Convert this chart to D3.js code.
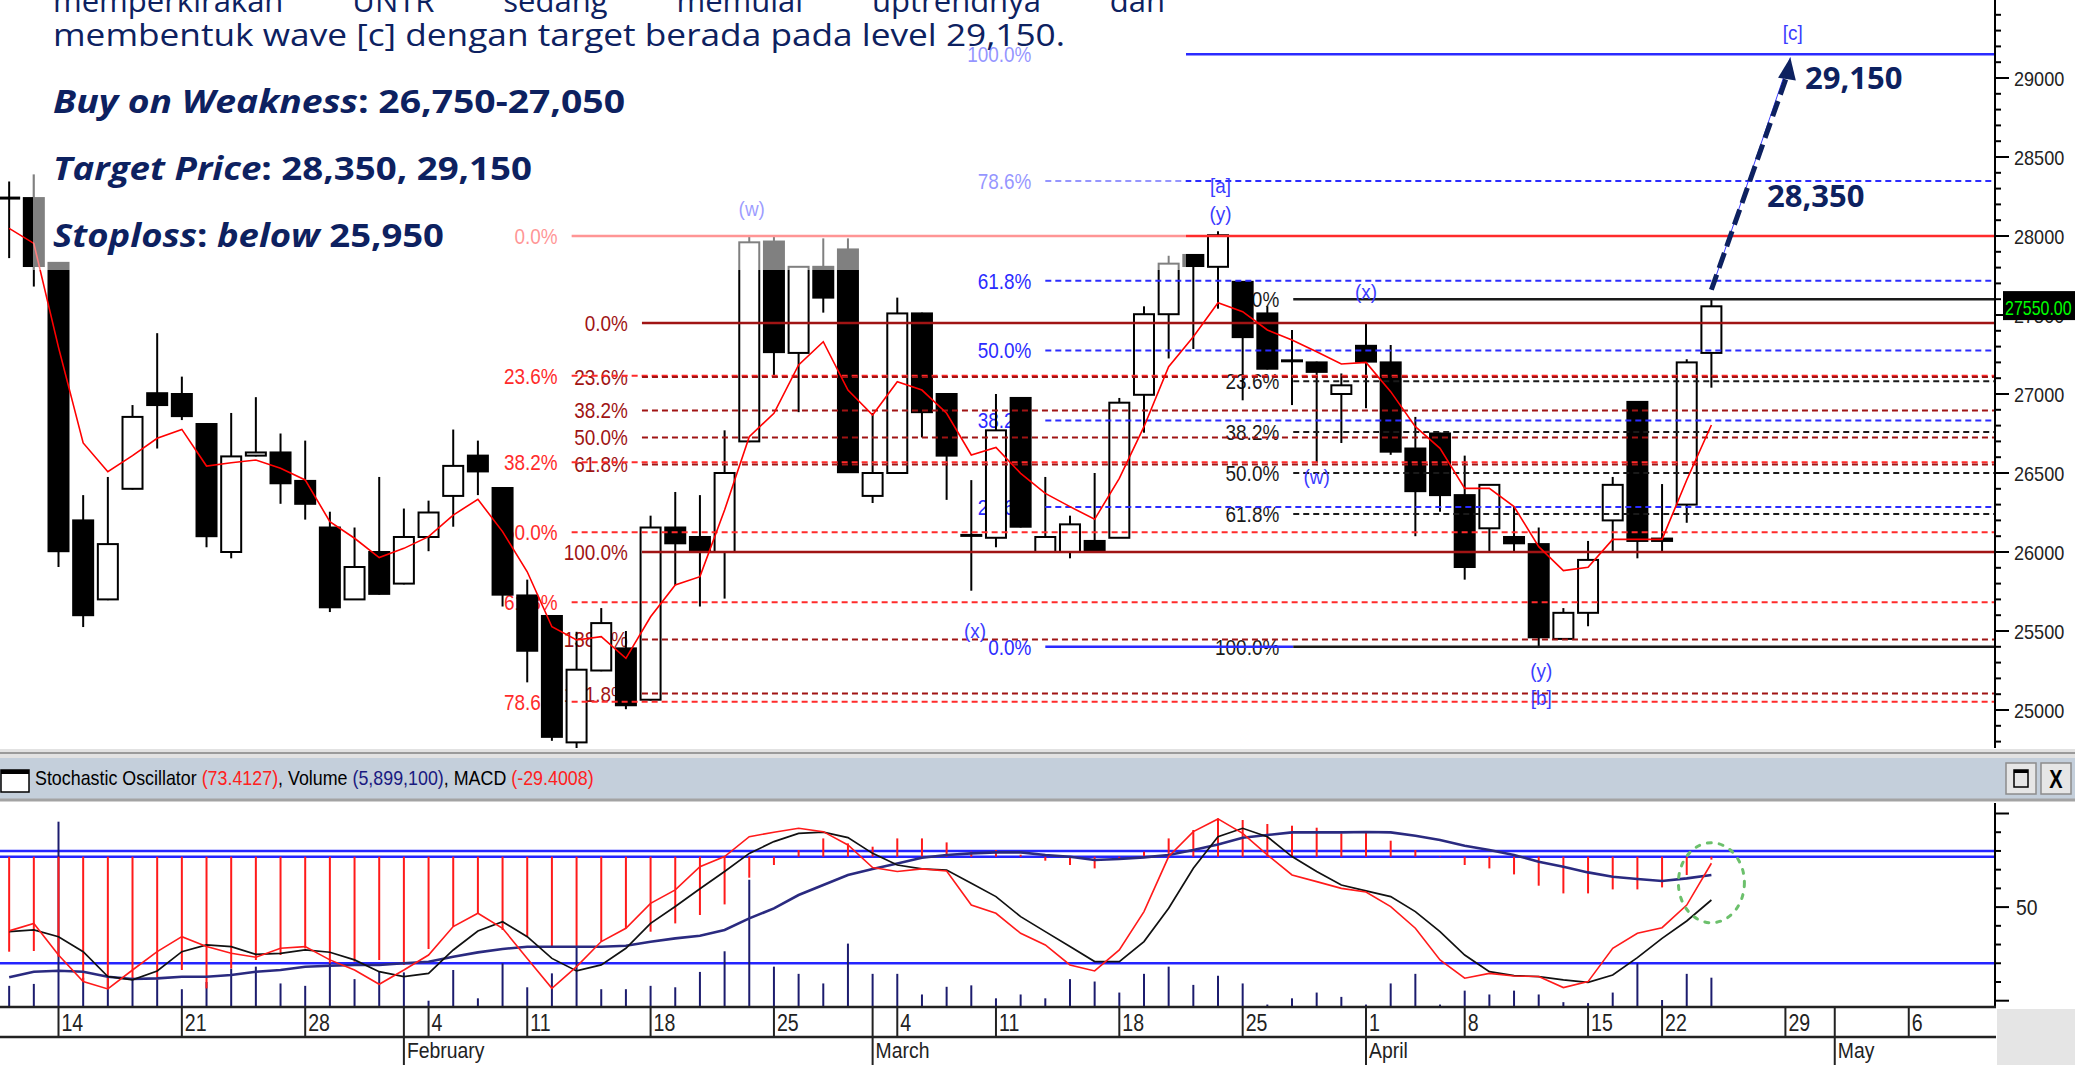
<!DOCTYPE html>
<html>
<head>
<meta charset="utf-8">
<script src="https://cdn.jsdelivr.net/npm/d3@7"></script>
<style>
  body { margin: 0; background: #fff; }
  svg { display: block; }
</style>
</head>
<body>
<svg id="chart" width="2075" height="1065"></svg>
<script>
// ---------- data ----------
const tradeDates = [
  "2019-01-10","2019-01-11","2019-01-14","2019-01-15","2019-01-16","2019-01-17","2019-01-18",
  "2019-01-21","2019-01-22","2019-01-23","2019-01-24","2019-01-25","2019-01-28","2019-01-29",
  "2019-01-30","2019-01-31","2019-02-01","2019-02-04","2019-02-06","2019-02-07","2019-02-08",
  "2019-02-11","2019-02-12","2019-02-13","2019-02-14","2019-02-15","2019-02-18","2019-02-19",
  "2019-02-20","2019-02-21","2019-02-22","2019-02-25","2019-02-26","2019-02-27","2019-02-28",
  "2019-03-01","2019-03-04","2019-03-05","2019-03-06","2019-03-08","2019-03-11","2019-03-12",
  "2019-03-13","2019-03-14","2019-03-15","2019-03-18","2019-03-19","2019-03-20","2019-03-21",
  "2019-03-22","2019-03-25","2019-03-26","2019-03-27","2019-03-28","2019-03-29","2019-04-01",
  "2019-04-02","2019-04-04","2019-04-05","2019-04-08","2019-04-09","2019-04-10","2019-04-11",
  "2019-04-12","2019-04-15","2019-04-16","2019-04-18","2019-04-22","2019-04-23","2019-04-24"
];
const futureDates = ["2019-04-25","2019-04-26","2019-04-29","2019-04-30","2019-05-01",
  "2019-05-02","2019-05-03","2019-05-06","2019-05-07","2019-05-08","2019-05-09"];

const opens = [
  28240,28240,27830,26200,25700,26400,27005,27000,26810,26000,
  26610,26630,26450,26155,25700,26000,25800,26095,26355,26610,
  26405,25725,25595,24795,25250,25390,25065,26155,26095,26000,
  26700,27965,27260,27805,27915,26355,26500,27510,27000,26105,
  26090,26975,26000,26000,26070,26090,26995,27505,27880,27805,
  27710,27510,27210,27200,27000,27305,27200,26655,26750,26360,
  26150,26095,26050,25450,25615,26200,26950,26085,26300,27260];
const highs = [
  28345,28390,27835,26360,26475,26930,27385,27110,26815,26880,
  26980,26750,26705,26255,26155,26475,26275,26325,26775,26705,
  26410,25825,25600,25495,25645,25500,26230,26380,26360,26770,
  28000,28000,27810,27985,27985,26880,27610,27515,27005,26455,
  27000,26980,26475,26230,26500,26975,27555,27875,27885,28030,
  27715,27555,27405,27205,27130,27450,27310,26855,26755,26610,
  26430,26285,26155,25645,26070,26475,26955,26430,27220,27600];
const lows = [
  27860,27680,25905,25525,25695,26395,26655,26835,26030,25960,
  26605,26305,26205,25620,25700,25730,25795,26005,26160,26360,
  25655,25175,24805,24745,25245,25005,25060,25790,25655,25705,
  26695,27115,26885,27515,26500,26310,26495,26725,26330,25755,
  26030,26155,25995,25960,25995,26090,26755,27225,27285,27540,
  26960,27155,26930,26565,26690,26910,26615,26100,26255,25825,
  26000,26000,25395,25445,25530,26000,25960,26000,26185,27040];
const closes = [
  28240,27810,26005,25600,26050,26855,26930,26860,26100,26605,
  26630,26435,26305,25650,25905,25735,26095,26250,26545,26510,
  25730,25375,24830,25255,25550,25030,26155,26055,26005,26500,
  27960,27265,27805,27610,26505,26500,27510,26885,26610,26105,
  26770,26160,26095,26175,26000,26945,27505,27825,27810,28005,
  27360,27160,27210,27140,27055,27205,26635,26385,26360,25905,
  26425,26055,25460,25615,25950,26425,26070,26070,27200,27555];
const movingAvg = [
  28048,27953,27295,26690,26508,26610,26720,26776,26544,26565,
  26582,26530,26456,26192,26087,25965,26023,26097,26234,26333,
  26129,25875,25527,25443,25464,25327,25590,25791,25844,26266,
  26730,26878,27184,27331,27025,26867,27078,27025,26878,26614,
  26662,26498,26371,26287,26207,26466,26793,27173,27363,27578,
  27521,27405,27342,27268,27190,27200,27015,26793,26656,26403,
  26403,26287,26034,25882,25903,26080,26080,26080,26456,26804];

const stochK = [
  37.3,41.3,24.4,10.2,6.3,16.4,26.2,34.2,28.9,25.3,
  23.2,28.0,28.9,21.8,16.4,8.8,16.4,24.4,39.6,46.7,
  38.7,22.6,6.6,18.2,31.6,38.7,52.0,59.2,71.6,77.0,
  87.6,90.0,92.1,90.3,83.2,71.1,69.0,70.4,69.3,51.1,
  46.7,36.0,29.8,19.1,15.9,27.1,47.6,77.0,90.3,97.1,
  89.4,77.9,67.2,63.6,60.0,58.1,50.3,38.7,21.8,12.0,
  14.6,13.2,12.9,7.0,10.2,28.0,36.0,39.0,51.1,73.4127];
const stochD = [
  36.9,37.8,34.2,26.2,12.9,11.1,15.9,26.2,29.8,28.9,
  24.8,25.3,27.1,25.9,21.8,15.5,12.9,14.6,27.1,37.2,
  42.2,34.2,22.6,15.9,19.1,28.0,41.3,50.3,59.8,69.0,
  78.7,85.0,89.4,90.0,87.1,78.7,72.5,70.4,69.8,62.7,
  55.6,44.9,36.9,28.9,20.9,20.9,31.6,49.4,70.7,87.6,
  92.1,87.6,77.0,69.0,61.8,58.7,55.6,47.6,36.9,24.4,
  15.5,13.4,12.9,11.1,9.8,13.7,23.0,33.3,42.6,53.8];
const macdValues = [
  -950,-943,-1000,-1250,-1317,-1233,-1233,-1133,-1317,-1117,
  -1033,-983,-917,-1066,-1050,-1033,-1083,-923,-700,-567,
  -733,-800,-900,-900,-850,-717,-750,-667,-583,-477,
  -210,-83,67,183,133,100,183,183,143,50,
  67,20,-40,-83,-117,-33,50,183,267,383,
  367,327,310,290,233,243,160,67,5,-83,
  -117,-177,-290,-367,-367,-327,-327,-307,-183,-29.4008];
const macdSignal = [
  -1205,-1150,-1140,-1150,-1200,-1223,-1217,-1200,-1200,-1183,
  -1150,-1133,-1100,-1090,-1083,-1083,-1066,-1050,-1000,-957,
  -923,-900,-900,-900,-900,-890,-850,-817,-790,-733,
  -617,-517,-383,-283,-183,-123,-67,-10,17,33,
  43,43,17,0,-33,-23,-7,17,67,123,
  190,217,243,243,243,247,243,210,167,110,
  67,17,-50,-100,-157,-200,-223,-243,-217,-183];
const volumeM = [
  4.2,4.6,38.4,5.9,6.0,5.9,5.5,3.5,5.0,7.8,
  8.2,4.7,4.2,8.9,5.6,7.1,7.0,1.1,7.5,1.6,
  8.9,3.9,6.8,12.4,3.5,3.5,4.2,3.9,7.1,11.4,
  26.3,8.2,6.7,4.7,13.0,6.7,6.7,2.4,4.0,4.3,
  1.6,2.4,1.6,5.6,5.1,2.8,6.7,8.2,4.4,6.3,
  4.7,0.3,1.6,2.8,1.9,0.3,4.7,6.7,0.3,3.2,
  2.4,3.2,2.4,0.8,0.6,2.8,8.9,1.25,6.7,5.8991];

// fibonacci tools: anchors [0% price, 100% price], levels, start position (date index)
const fibRedAnchors = [28000, 24250];
const fibRedLevels = [0, 23.6, 38.2, 50, 61.8, 78.6];
const fibRedStart = 22.8;
const fibMaroonAnchors = [27450, 26000];
const fibMaroonLevels = [0, 23.6, 38.2, 50, 61.8, 100, 138.2, 161.8];
const fibMaroonStart = 25.65;
const fibBlueAnchors = [25400, 29150];
const fibBlueLevels = [0, 23.6, 38.2, 50, 61.8, 78.6, 100];
const fibBlueStart = 42.0;
const fibBlackAnchors = [27600, 25400];
const fibBlackLevels = [0, 23.6, 38.2, 50, 61.8, 100];
const fibBlackStart = 52.05;

// Elliott wave labels: [date index, price, text]
const waveLabels = [
  [30.1, 28170, "(w)"], [49.1, 28320, "[a]"], [49.1, 28140, "(y)"],
  [55.0, 27645, "(x)"], [53.0, 26480, "(w)"], [39.15, 25505, "(x)"],
  [62.1, 25247, "(y)"], [62.1, 25076, "[b]"], [72.3, 29290, "[c]"]
];
const arrowFrom = [69, 27660];
const arrowTo = [72.1, 29030];
const arrowTip = [72.2, 29130];
const lastPrice = 27550;

const headerLine1 = ["memperkirakan", "UNTR", "sedang", "memulai", "uptrendnya", "dan"];
const headerLine2 = "membentuk wave [c] dengan target berada pada level 29,150.";
const targetLabels = [["29,150", 29000], ["28,350", 28250]];
const titleParts = [["Stochastic Oscillator ", "#000"], ["(73.4127)", "#ff2020"], [", Volume ", "#000"],
  ["(5,899,100)", "#1a1a80"], [", MACD ", "#000"], ["(-29.4008)", "#ff2020"]];

// ---------- setup ----------
const svg = d3.select("#chart");
const fontChart = "'Liberation Sans', Arial, sans-serif";
const fontHead = "'Open Sans', 'Noto Sans', sans-serif";
const navy = "#0d2160";
const axisX = 1995;
const priceBottom = 748;

// squeeze a text horizontally to mimic the narrow chart font
function condense(sel, f = 0.86) {
  sel.each(function () {
    const len = this.getComputedTextLength();
    d3.select(this).attr("textLength", len * f).attr("lengthAdjust", "spacingAndGlyphs");
  });
}

const parse = d3.timeParse("%Y-%m-%d");
const allDates = tradeDates.concat(futureDates).map(parse);

const x = d3.scaleLinear().domain([2, 69]).range([58.5, 1711.4]);
const y = d3.scaleLinear().domain([25000, 29000]).range([710, 78]);
const yStoch = d3.scaleLinear().domain([0, 100]).range([1000.7, 813.5]);
const yMacd = d3.scaleLinear().domain([-1500, 500]).range([1006.7, 806.7]);
const yVol = d3.scaleLinear().domain([0, 40]).range([1006, 814]);

const defs = svg.append("defs");
defs.append("clipPath").attr("id", "clipPrice")
  .append("rect").attr("x", 0).attr("y", 0).attr("width", axisX).attr("height", priceBottom);
defs.append("clipPath").attr("id", "clipInd")
  .append("rect").attr("x", 0).attr("y", 803).attr("width", axisX).attr("height", 204);

const candles = tradeDates.map((d, k) => ({
  k, o: opens[k], h: highs[k], l: lows[k], c: closes[k]
}));

// ---------- price panel ----------
const price = svg.append("g").attr("clip-path", "url(#clipPrice)");

const fibs = [
  { anchors: fibRedAnchors, levels: fibRedLevels, start: fibRedStart, color: "#ff2b2b", solid: [0] },
  { anchors: fibMaroonAnchors, levels: fibMaroonLevels, start: fibMaroonStart, color: "#a01414", solid: [0, 100] },
  { anchors: fibBlueAnchors, levels: fibBlueLevels, start: fibBlueStart, color: "#2b2bff", solid: [0, 100] },
  { anchors: fibBlackAnchors, levels: fibBlackLevels, start: fibBlackStart, color: "#1a1a1a", solid: [0, 100] }
];
const fibPrice = (f, p) => f.anchors[0] + (f.anchors[1] - f.anchors[0]) * p / 100;

// fib labels (behind candles)
fibs.forEach(f => {
  price.append("g").selectAll("text")
    .data(f.levels)
    .join("text")
    .attr("x", x(f.start) - 14)
    .attr("y", p => y(fibPrice(f, p)))
    .attr("dy", "0.36em")
    .attr("text-anchor", "end")
    .attr("fill", f.color)
    .style("font-family", fontChart)
    .style("font-size", "22px")
    .text(p => p.toFixed(1) + "%")
    .call(condense);
});

// candles
const cg = price.append("g");
cg.selectAll("line.wick")
  .data(candles)
  .join("line")
  .attr("class", "wick")
  .attr("x1", d => x(d.k)).attr("x2", d => x(d.k))
  .attr("y1", d => y(d.h)).attr("y2", d => y(d.l))
  .attr("stroke", "#000").attr("stroke-width", 2);
cg.selectAll("rect.body")
  .data(candles.filter(d => Math.abs(d.c - d.o) >= 5))
  .join("rect")
  .attr("class", "body")
  .attr("x", d => x(d.k) - 10)
  .attr("width", 20)
  .attr("y", d => y(Math.max(d.o, d.c)))
  .attr("height", d => Math.max(2, y(Math.min(d.o, d.c)) - y(Math.max(d.o, d.c))))
  .attr("fill", d => d.c < d.o ? "#000" : "#fff")
  .attr("stroke", "#000").attr("stroke-width", 2);
cg.selectAll("line.doji")
  .data(candles.filter(d => Math.abs(d.c - d.o) < 5))
  .join("line")
  .attr("class", "doji")
  .attr("x1", d => x(d.k) - 11).attr("x2", d => x(d.k) + 11)
  .attr("y1", d => y(d.c)).attr("y2", d => y(d.c))
  .attr("stroke", "#000").attr("stroke-width", 3);

// fib lines (over candles)
const boxRight = 1186;
fibs.forEach(f => {
  f.levels.forEach(p => {
    const yy = y(fibPrice(f, p));
    const solid = f.solid.includes(p);
    let x1 = x(f.start), x2 = axisX;
    if (f === fibs[2] && p === 0) x2 = x(fibBlackStart);
    if (f === fibs[2] && p === 100) x1 = boxRight;   // hidden under the text box
    price.append("line")
      .attr("x1", x1).attr("x2", x2)
      .attr("y1", yy).attr("y2", yy)
      .attr("stroke", f.color)
      .attr("stroke-width", solid ? 2.5 : 2)
      .attr("stroke-dasharray", solid ? null : "6,4");
  });
});

// moving average
price.append("path")
  .datum(movingAvg)
  .attr("fill", "none")
  .attr("stroke", "#ff0000")
  .attr("stroke-width", 1.6)
  .attr("d", d3.line().x((d, k) => x(k)).y(d => y(d)));

// wave labels
price.append("g").selectAll("text")
  .data(waveLabels)
  .join("text")
  .attr("x", d => x(d[0]))
  .attr("y", d => y(d[1]))
  .attr("dy", "0.35em")
  .attr("text-anchor", "middle")
  .attr("fill", "#3b3bff")
  .style("font-family", fontChart)
  .style("font-size", "21px")
  .text(d => d[2])
  .call(condense, 0.9);

// white translucent text box behind header
price.append("rect")
  .attr("x", 33).attr("y", 0).attr("width", boxRight - 33).attr("height", 270)
  .attr("fill", "#fff").attr("fill-opacity", 0.5);

// projection arrow
svg.append("line")
  .attr("x1", x(arrowFrom[0])).attr("y1", y(arrowFrom[1]))
  .attr("x2", x(arrowTip[0])).attr("y2", y(arrowTip[1]))
  .attr("stroke", "#3b3bff").attr("stroke-width", 1);
svg.append("line")
  .attr("x1", x(arrowFrom[0])).attr("y1", y(arrowFrom[1]))
  .attr("x2", x(arrowTo[0])).attr("y2", y(arrowTo[1]))
  .attr("stroke", navy).attr("stroke-width", 5)
  .attr("stroke-dasharray", "16,7");
{
  const tx = x(arrowTip[0]), ty = y(arrowTip[1]);
  const bx = x(arrowTo[0]), by = y(arrowTo[1]);
  const ang = Math.atan2(ty - by, tx - bx);
  const L = 22, Wd = 9;
  const baseX = tx - L * Math.cos(ang), baseY = ty - L * Math.sin(ang);
  const p1 = [baseX + Wd * Math.sin(ang), baseY - Wd * Math.cos(ang)];
  const p2 = [baseX - Wd * Math.sin(ang), baseY + Wd * Math.cos(ang)];
  svg.append("path").attr("d", `M${[tx, ty]}L${p1}L${p2}Z`).attr("fill", navy);
}

// target labels
svg.append("g").selectAll("text")
  .data(targetLabels)
  .join("text")
  .attr("x", (d, k) => k === 0 ? 1805 : 1767)
  .attr("y", d => y(d[1]))
  .attr("dy", "0.35em")
  .attr("fill", navy)
  .style("font-family", fontHead)
  .style("font-weight", 700)
  .style("font-size", "31px")
  .text(d => d[0]);

// price axis
const pAxis = svg.append("g");
pAxis.append("line").attr("x1", axisX).attr("x2", axisX).attr("y1", 0).attr("y2", priceBottom)
  .attr("stroke", "#000").attr("stroke-width", 2);
pAxis.selectAll("line.minor")
  .data(d3.range(24800, 29500, 100))
  .join("line")
  .attr("class", "minor")
  .attr("x1", axisX).attr("x2", d => axisX + (d % 500 === 0 ? 14 : 6))
  .attr("y1", d => y(d)).attr("y2", d => y(d))
  .attr("stroke", "#000").attr("stroke-width", 2);
pAxis.selectAll("text")
  .data(d3.range(25000, 29001, 500))
  .join("text")
  .attr("x", axisX + 19)
  .attr("y", d => y(d))
  .attr("dy", "0.36em")
  .attr("fill", "#222")
  .style("font-family", fontChart)
  .style("font-size", "21px")
  .text(d => d)
  .call(condense, 0.86);
pAxis.append("rect").attr("x", 2003).attr("y", y(lastPrice) - 16).attr("width", 72).attr("height", 29)
  .attr("fill", "#000");
pAxis.append("text").attr("x", 2005).attr("y", y(lastPrice)).attr("dy", "0.36em")
  .attr("fill", "#00ff00").style("font-family", fontChart).style("font-size", "21px")
  .text(lastPrice.toFixed(2))
  .call(condense, 0.76);

// ---------- header text ----------
const head = svg.append("g").attr("fill", navy).style("font-family", fontHead);
{
  const words = head.append("g").style("font-size", "31px");
  const nodes = headerLine1.map(w => words.append("text").attr("y", 12).text(w));
  const widths = nodes.map(n => n.node().getComputedTextLength());
  const gap = (1165 - 53 - d3.sum(widths)) / (nodes.length - 1);
  let cx = 53;
  nodes.forEach((n, k) => { n.attr("x", cx); cx += widths[k] + gap; });
}
head.append("text").attr("x", 53).attr("y", 46).style("font-size", "31px")
  .attr("textLength", 1012).attr("lengthAdjust", "spacingAndGlyphs")
  .text(headerLine2);

const boldLines = [
  { y: 113, len: 572, parts: [["Buy on Weakness", true], [": 26,750-27,050", false]] },
  { y: 180, len: 479, parts: [["Target Price", true], [": 28,350, 29,150", false]] },
  { y: 247, len: 391, parts: [["Stoploss", true], [": ", false], ["below", true], [" 25,950", false]] }
];
boldLines.forEach(line => {
  const t = head.append("text").attr("x", 53).attr("y", line.y)
    .style("font-size", "33px").style("font-weight", 700)
    .attr("textLength", line.len).attr("lengthAdjust", "spacingAndGlyphs");
  line.parts.forEach(p => t.append("tspan").style("font-style", p[1] ? "italic" : "normal").text(p[0]));
});

// ---------- panel separator & title bar ----------
svg.append("rect").attr("x", 0).attr("y", 749).attr("width", 2075).attr("height", 9).attr("fill", "#e2e2e2");
svg.append("line").attr("x1", 0).attr("x2", 2075).attr("y1", 753).attr("y2", 753).attr("stroke", "#9a9a9a").attr("stroke-width", 2);
svg.append("rect").attr("x", 0).attr("y", 758).attr("width", 2075).attr("height", 41).attr("fill", "#c4cfdb");
svg.append("line").attr("x1", 0).attr("x2", 2075).attr("y1", 800).attr("y2", 800).attr("stroke", "#a3a3a3").attr("stroke-width", 3);

// window icon
svg.append("rect").attr("x", 1).attr("y", 770).attr("width", 28).attr("height", 22).attr("fill", "#fff").attr("stroke", "#000").attr("stroke-width", 1.5);
svg.append("rect").attr("x", 1).attr("y", 770).attr("width", 28).attr("height", 4).attr("fill", "#000");

// title: each part condensed and placed after the previous one
{
  let tx = 35;
  titleParts.forEach(p => {
    const t = svg.append("text").attr("x", tx).attr("y", 785)
      .style("font-family", fontChart).style("font-size", "21px").style("white-space", "pre")
      .attr("fill", p[1]).text(p[0]);
    const w = t.node().getComputedTextLength() * 0.85;
    t.attr("textLength", w).attr("lengthAdjust", "spacingAndGlyphs");
    tx += w;
  });
}

// title bar buttons
[[2006, "max"], [2041, "X"]].forEach(b => {
  svg.append("rect").attr("x", b[0]).attr("y", 763).attr("width", 30).attr("height", 31)
    .attr("fill", "#e6e6e6").attr("stroke", "#8c8c8c").attr("stroke-width", 1.5);
  if (b[1] === "max") {
    svg.append("rect").attr("x", b[0] + 8).attr("y", 770).attr("width", 14).attr("height", 17)
      .attr("fill", "none").attr("stroke", "#000").attr("stroke-width", 1.5);
    svg.append("rect").attr("x", b[0] + 8).attr("y", 770).attr("width", 14).attr("height", 3).attr("fill", "#000");
  } else {
    svg.append("text").attr("x", b[0] + 15).attr("y", 788).attr("text-anchor", "middle")
      .style("font-family", fontChart).style("font-size", "25px").style("font-weight", 700)
      .text("X").call(condense, 0.8);
  }
});

// ---------- indicator panel ----------
const ind = svg.append("g").attr("clip-path", "url(#clipInd)");
[yStoch(80), yMacd(0), yStoch(20)].forEach(yy => {
  ind.append("line").attr("x1", 0).attr("x2", axisX).attr("y1", yy).attr("y2", yy)
    .attr("stroke", "#2424ff").attr("stroke-width", 2.5);
});
ind.selectAll("line.vol")
  .data(volumeM)
  .join("line").attr("class", "vol")
  .attr("x1", (d, k) => x(k)).attr("x2", (d, k) => x(k))
  .attr("y1", yVol(0)).attr("y2", d => yVol(d))
  .attr("stroke", "#1c1c6e").attr("stroke-width", 2);
ind.selectAll("line.macd")
  .data(macdValues)
  .join("line").attr("class", "macd")
  .attr("x1", (d, k) => x(k)).attr("x2", (d, k) => x(k))
  .attr("y1", yMacd(0)).attr("y2", d => yMacd(d))
  .attr("stroke", "#ff1a1a").attr("stroke-width", 2);
ind.append("path").datum(macdSignal)
  .attr("fill", "none").attr("stroke", "#2a2a80").attr("stroke-width", 2.6)
  .attr("d", d3.line().x((d, k) => x(k)).y(d => yMacd(d)));
ind.append("path").datum(stochD)
  .attr("fill", "none").attr("stroke", "#111").attr("stroke-width", 1.7)
  .attr("d", d3.line().x((d, k) => x(k)).y(d => yStoch(d)));
ind.append("path").datum(stochK)
  .attr("fill", "none").attr("stroke", "#ff1a1a").attr("stroke-width", 1.6)
  .attr("d", d3.line().x((d, k) => x(k)).y(d => yStoch(d)));

// highlight ellipse
svg.append("ellipse")
  .attr("cx", x(69)).attr("cy", yStoch(63))
  .attr("rx", 33).attr("ry", 40)
  .attr("fill", "none").attr("stroke", "#6cc06c").attr("stroke-width", 3)
  .attr("stroke-dasharray", "4,8").attr("stroke-linecap", "round");

// indicator axis
svg.append("line").attr("x1", axisX).attr("x2", axisX).attr("y1", 803).attr("y2", 1008)
  .attr("stroke", "#000").attr("stroke-width", 2);
svg.selectAll("line.stick")
  .data(d3.range(0, 101, 10))
  .join("line").attr("class", "stick")
  .attr("x1", axisX).attr("x2", d => axisX + (d % 50 === 0 ? 14 : 6))
  .attr("y1", d => yStoch(d)).attr("y2", d => yStoch(d))
  .attr("stroke", "#000").attr("stroke-width", 2);
svg.append("text").attr("x", axisX + 21).attr("y", yStoch(50)).attr("dy", "0.36em")
  .style("font-family", fontChart).style("font-size", "22px").attr("fill", "#222").text("50")
  .call(condense, 0.88);

// ---------- date axis ----------
svg.append("rect").attr("x", axisX + 2).attr("y", 1009).attr("width", 2075 - axisX).attr("height", 56).attr("fill", "#e5e5e5");
svg.append("line").attr("x1", 0).attr("x2", axisX + 1).attr("y1", 1007).attr("y2", 1007).attr("stroke", "#222").attr("stroke-width", 2.5);
svg.append("line").attr("x1", 0).attr("x2", axisX + 1).attr("y1", 1037).attr("y2", 1037).attr("stroke", "#222").attr("stroke-width", 2.5);

const weekTicks = [], monthTicks = [];
allDates.forEach((d, k) => {
  if (k === 0) return;
  const prev = allDates[k - 1];
  if (+d3.timeMonday.floor(prev) !== +d3.timeMonday.floor(d)) weekTicks.push([k, d]);
  if (prev.getMonth() !== d.getMonth()) monthTicks.push([k, d]);
});
const dateAxis = svg.append("g").style("font-family", fontChart).attr("fill", "#222");
dateAxis.selectAll("line.wk")
  .data(weekTicks).join("line").attr("class", "wk")
  .attr("x1", d => x(d[0])).attr("x2", d => x(d[0]))
  .attr("y1", 1007).attr("y2", 1037)
  .attr("stroke", "#222").attr("stroke-width", 2);
dateAxis.selectAll("text.wk")
  .data(weekTicks).join("text").attr("class", "wk")
  .attr("x", d => x(d[0]) + 3).attr("y", 1031)
  .style("font-size", "23px")
  .text(d => d[1].getDate())
  .call(condense, 0.85);
dateAxis.selectAll("line.mo")
  .data(monthTicks).join("line").attr("class", "mo")
  .attr("x1", d => x(d[0])).attr("x2", d => x(d[0]))
  .attr("y1", 1007).attr("y2", 1065)
  .attr("stroke", "#222").attr("stroke-width", 2);
dateAxis.selectAll("text.mo")
  .data(monthTicks).join("text").attr("class", "mo")
  .attr("x", d => x(d[0]) + 3).attr("y", 1058)
  .style("font-size", "22px")
  .text(d => d3.timeFormat("%B")(d[1]))
  .call(condense, 0.88);
</script>
</body>
</html>
